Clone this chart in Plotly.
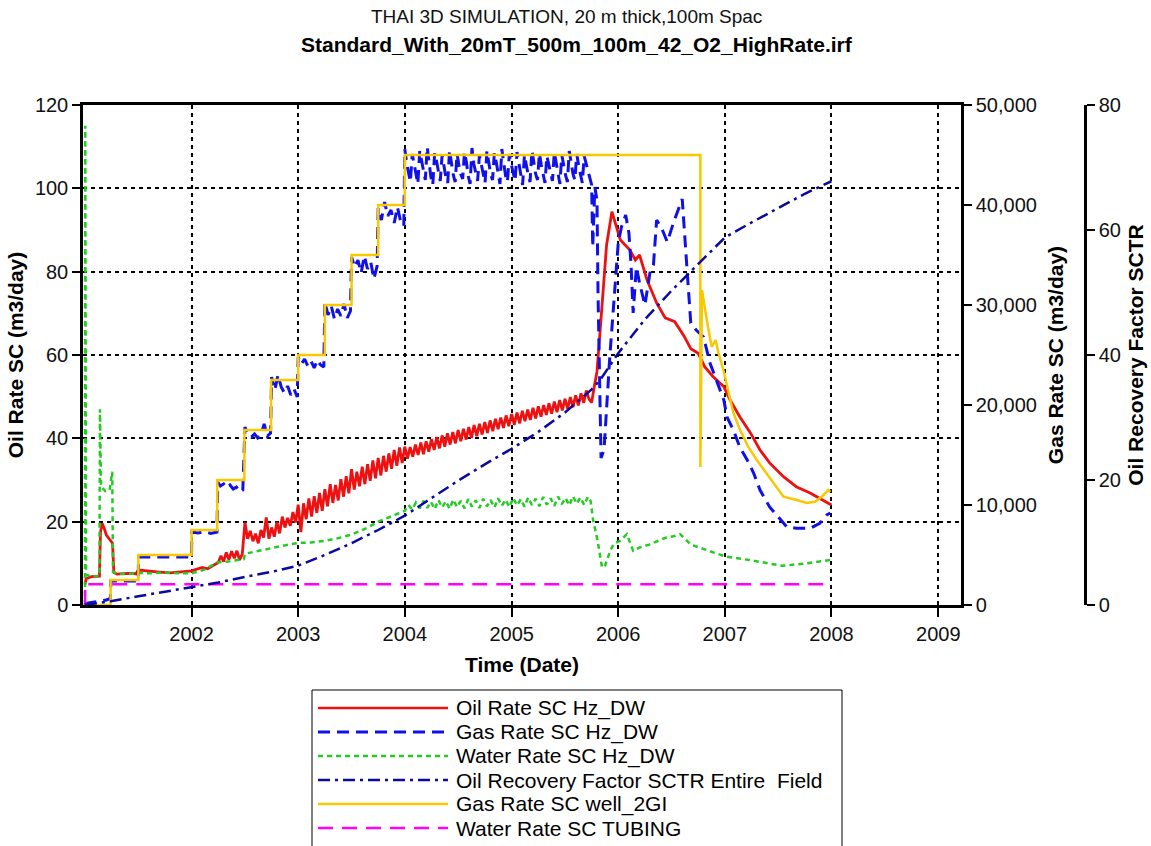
import plotly.graph_objects as go
from datetime import datetime, timedelta

# ---------------- data (decimal years) ----------------
series_names = [
    "Oil Rate SC Hz_DW",
    "Gas Rate SC Hz_DW",
    "Water Rate SC Hz_DW",
    "Oil Recovery Factor SCTR Entire\u00a0 Field",
    "Gas Rate SC well_2GI",
    "Water Rate SC TUBING",
]

year_ticks = [2002, 2003, 2004, 2005, 2006, 2007, 2008, 2009]
oil_ticks = [0, 20, 40, 60, 80, 100, 120]
gas_ticks = [0, 10000, 20000, 30000, 40000, 50000]
rf_ticks = [0, 20, 40, 60, 80]

# Oil Rate SC Hz_DW (m3/day, left axis)
oil_early_t = [2001.0, 2001.01, 2001.06, 2001.135, 2001.145, 2001.16, 2001.18, 2001.20, 2001.235, 2001.258,
               2001.27, 2001.3, 2001.4, 2001.48, 2001.5, 2001.6, 2001.7, 2001.8, 2001.9, 2002.0,
               2002.05, 2002.1, 2002.15, 2002.2, 2002.225]
oil_early_v = [5.0, 6.3, 6.8, 6.9, 17.5, 19.6, 18.4, 16.8, 15.6, 14.8,
               7.8, 7.4, 7.6, 7.5, 8.4, 8.1, 7.9, 7.7, 7.9, 8.2,
               8.6, 9.0, 8.7, 9.4, 9.8]
oil_noisy_start = 2002.25
oil_noisy_step = 0.025
oil_noisy_v = [10.2, 11.8, 10.4, 12.6, 10.9, 12.9, 11.2, 13.0, 10.8, 12.2,
               19.8, 15.9, 17.8, 15.3, 17.1, 14.8, 18.0, 16.2, 21.0, 15.9,
               18.6, 16.4, 19.9, 17.2, 21.2, 18.6, 20.9, 19.0, 22.3, 19.8,
               24.1, 17.5, 24.4, 20.6, 25.6, 21.2, 26.1, 22.1, 26.9, 22.6,
               27.8, 23.7, 29.0, 24.5, 28.8, 25.1, 30.2, 26.0, 30.9, 26.8,
               32.6, 27.7, 32.0, 28.5, 33.2, 29.0, 33.8, 29.8, 34.7, 30.4,
               35.3, 31.1, 35.8, 32.0, 36.4, 32.7, 37.2, 33.4, 37.8, 34.1,
               38.0, 35.1, 37.9, 35.6, 38.5, 36.0, 39.0, 36.2, 39.3, 36.8,
               39.8, 37.2, 40.3, 37.6, 40.7, 38.0, 41.2, 38.5, 41.5, 38.8,
               42.0, 39.3, 42.3, 39.7, 42.7, 40.1, 43.2, 40.5, 43.5, 40.9,
               43.9, 41.3, 44.3, 41.7, 44.7, 42.2, 45.0, 42.5, 45.5, 42.9,
               45.8, 43.3, 46.2, 43.6, 46.6, 44.1, 46.9, 44.4, 47.3, 44.8,
               47.7, 45.2, 48.0, 45.6, 48.4, 45.9, 48.8, 46.3, 49.2, 46.7,
               49.5, 47.1, 49.9, 47.5, 50.3, 47.9, 50.8, 48.5, 51.5, 49.4,
               48.6]
oil_late_t = [2005.775, 2005.80, 2005.83, 2005.86, 2005.89, 2005.94, 2006.02, 2006.11, 2006.16, 2006.20,
              2006.27, 2006.36, 2006.44, 2006.53, 2006.62, 2006.68, 2006.75, 2006.81, 2006.89, 2006.99,
              2007.05, 2007.14, 2007.24, 2007.33, 2007.42, 2007.55, 2007.67, 2007.80, 2007.92, 2008.0]
oil_late_v = [52.5, 56.0, 66.0, 77.0, 86.4, 94.4, 87.6, 85.2, 82.8, 84.0,
              78.0, 72.5, 68.9, 68.0, 64.4, 61.5, 60.4, 57.2, 54.8, 52.4,
              49.2, 45.2, 41.3, 37.2, 34.1, 30.8, 28.4, 26.9, 25.2, 24.0]

# Gas Rate SC Hz_DW (m3/day, gas axis)
gas_early_t = [2001.0, 2001.03, 2001.12, 2001.2, 2001.238, 2001.242, 2001.498, 2001.502, 2001.998, 2002.002,
               2002.06, 2002.12, 2002.18, 2002.238,
               2002.245, 2002.27, 2002.30, 2002.33, 2002.36, 2002.39, 2002.42, 2002.45, 2002.48,
               2002.50, 2002.53, 2002.56, 2002.59, 2002.62, 2002.65, 2002.68, 2002.71, 2002.74,
               2002.75, 2002.78, 2002.81, 2002.84, 2002.87, 2002.90, 2002.93, 2002.96, 2002.99,
               2003.0, 2003.03, 2003.06, 2003.09, 2003.12, 2003.15, 2003.18, 2003.21, 2003.24,
               2003.25, 2003.28, 2003.31, 2003.34, 2003.37, 2003.40, 2003.43, 2003.46, 2003.49,
               2003.5, 2003.53, 2003.56, 2003.59, 2003.62, 2003.65, 2003.68, 2003.71, 2003.74,
               2003.75, 2003.78, 2003.81, 2003.84, 2003.87, 2003.90, 2003.93, 2003.96, 2003.99]
gas_early_v = [0, 200, 350, 500, 650, 2400, 2400, 4800, 4800, 7300,
               7200, 7350, 7150, 7300,
               12300, 11900, 12100, 11700, 12000, 11600, 11800, 11300, 11500,
               17800, 17000, 16800, 17100, 16700, 17000, 18100, 16900, 17200,
               22800, 21500, 23000, 21800, 21200, 21900, 21000, 21600, 20800,
               24800, 24100, 24600, 23900, 24400, 23700, 24500, 24000, 23800,
               30300, 29000, 29900, 28600, 29600, 28900, 30100, 28700, 29400,
               34800, 33800, 34500, 33200, 34900, 33600, 34300, 32600, 33900,
               39700, 38500, 40300, 38900, 39500, 38200, 39800, 38400, 37900]
gas_plateau_start = 2004.0
gas_plateau_step = 0.0175
gas_plateau_v = [45600, 44200, 43100, 42300, 45100, 44000, 42900, 42100, 45400, 44300, 43200, 42500,
                 45800, 44100, 42800, 42000, 45200, 44400, 43300, 42400, 45000, 43900, 42800, 42200,
                 45500, 44200, 43000, 42300, 45100, 44000, 43100, 42600, 45300, 44300, 42900, 42100,
                 45700, 44100, 43200, 42400, 45000, 44000, 42800, 42200, 45400, 44200, 43100, 42500,
                 45200, 44300, 43000, 42100, 45600, 44000, 42900, 42300, 45100, 44100, 43200, 42400,
                 45300, 44200, 42800, 42000, 45000, 43900, 43000, 42300, 45500, 44300, 43100, 42500,
                 45200, 44000, 42900, 42200, 44900, 44100, 43200, 42400, 45300, 44200, 42800, 42100,
                 45000, 43900, 43000, 42300, 45400, 44300, 43100, 42500, 45100, 44000, 42900, 42200,
                 44900, 44100, 43300, 42600]
gas_late_t = [2005.75, 2005.76, 2005.78, 2005.80, 2005.81, 2005.838, 2005.866, 2005.92,
              2005.97, 2006.0, 2006.03, 2006.07, 2006.10, 2006.12, 2006.14, 2006.17, 2006.20, 2006.25,
              2006.30, 2006.33, 2006.36, 2006.41, 2006.46, 2006.52, 2006.60, 2006.62, 2006.65, 2006.68,
              2006.73, 2006.80, 2006.86, 2006.92, 2006.99, 2007.02, 2007.08, 2007.14, 2007.21, 2007.27,
              2007.33, 2007.42, 2007.52, 2007.58, 2007.67, 2007.80, 2007.89, 2007.955, 2007.99]
gas_late_v = [42000, 35800, 41800, 40500, 31000, 14700, 15500, 24800,
              32500, 36200, 37800, 39000, 37200, 34000, 29200, 33800, 32200, 30000,
              33400, 34000, 38500, 37600, 36300, 38300, 40600, 37800, 32800, 28200,
              27500, 26800, 24200, 22500, 20500, 18800, 17500, 15800, 14500, 13200,
              11500, 9800, 8500, 7830, 7670, 7670, 8170, 9000, 9200]

# Water Rate SC Hz_DW (m3/day, left axis)
water_early_t = [2001.0, 2001.002, 2001.01, 2001.06, 2001.135, 2001.14, 2001.15, 2001.19, 2001.23, 2001.255,
                 2001.262, 2001.3, 2001.4, 2001.5, 2001.6, 2001.75, 2001.9, 2002.0, 2002.12, 2002.24,
                 2002.36, 2002.49, 2002.5, 2002.62, 2002.75, 2002.87, 2003.0, 2003.12, 2003.25, 2003.37,
                 2003.5, 2003.62, 2003.75, 2003.87]
water_early_v = [0, 115, 7.2, 6.9, 7.0, 47, 28.5, 27.3, 27.5, 32,
                 8.0, 7.5, 7.4, 7.7, 7.6, 7.8, 7.6, 7.6, 8.5, 10.2,
                 10.5, 11.0, 12.3, 13.0, 13.7, 14.3, 14.9, 15.0, 15.4, 16.0,
                 16.9, 18.2, 20.0, 21.2]
water_plateau_start = 2004.0
water_plateau_step = 0.035
water_plateau_v = [22.6, 24.0, 22.9, 24.6, 23.2, 25.0, 23.3, 24.8, 23.0, 25.2,
                   23.4, 24.9, 23.1, 25.3, 23.5, 25.0, 23.2, 25.4, 23.6, 25.1,
                   23.3, 25.5, 23.7, 25.2, 23.4, 25.6, 23.8, 25.3, 23.5, 25.7,
                   23.9, 25.4, 23.6, 25.8, 24.0, 25.5, 23.7, 25.9, 24.1, 25.6,
                   23.8, 26.0, 24.2, 25.7, 23.9, 26.1, 24.3, 25.8, 24.0]
water_late_t = [2005.715, 2005.74, 2005.764, 2005.806, 2005.846, 2005.87, 2005.924, 2005.96, 2006.018, 2006.08,
                2006.14, 2006.2, 2006.29, 2006.37, 2006.45, 2006.52, 2006.58, 2006.68, 2006.84, 2007.01,
                2007.23, 2007.4, 2007.54, 2007.77, 2007.99]
water_late_v = [26.0, 25.0, 20.4, 15.4, 9.2, 9.0, 13.0, 14.8, 15.4, 17.0,
                13.0, 13.8, 14.5, 15.3, 16.2, 16.5, 17.0, 14.5, 13.0, 11.6,
                10.8, 10.0, 9.4, 10.0, 10.8]

# Oil Recovery Factor SCTR Entire Field (third axis)
rf_t = [2001.0, 2001.24, 2001.5, 2001.75, 2002.0, 2002.25, 2002.5, 2002.75, 2003.0, 2003.25,
        2003.5, 2003.75, 2004.0, 2004.25, 2004.5, 2004.75, 2005.0, 2005.25, 2005.5, 2005.75,
        2005.83, 2006.0, 2006.25, 2006.5, 2006.75, 2007.0, 2007.25, 2007.5, 2007.75, 2008.0]
rf_v = [0, 0.6, 1.4, 2.1, 2.9, 3.6, 4.5, 5.3, 6.3, 8.0,
        9.9, 12.0, 14.3, 17.1, 19.9, 22.5, 25.0, 27.7, 30.8, 34.5,
        36.0, 40.3, 45.7, 50.3, 54.6, 58.8, 61.2, 63.5, 65.8, 67.8]

# Gas Rate SC well_2GI (gas axis)
gi_t = [2001.0, 2001.24, 2001.24, 2001.5, 2001.5, 2002.0, 2002.0, 2002.24, 2002.24, 2002.495,
        2002.495, 2002.745, 2002.745, 2003.0, 2003.0, 2003.25, 2003.25, 2003.5, 2003.5, 2003.75,
        2003.75, 2004.0, 2004.0, 2006.77, 2006.77, 2006.785, 2006.83, 2006.876, 2006.913, 2006.94,
        2006.986, 2007.033, 2007.08, 2007.143, 2007.22, 2007.30, 2007.39, 2007.455, 2007.55, 2007.674,
        2007.768, 2007.845, 2007.908, 2007.97, 2007.99]
gi_v = [0, 0, 2500, 2500, 5000, 5000, 7500, 7500, 12500, 12500,
        17500, 17500, 22500, 22500, 25000, 25000, 30000, 30000, 35000, 35000,
        40000, 40000, 45000, 45000, 13800, 31500, 28500, 25800, 26500, 25200,
        23500, 21200, 19200, 17500, 15800, 14500, 13200, 12200, 10830, 10500,
        10200, 10330, 10830, 11500, 11300]

# Water Rate SC TUBING (left axis)
tub_t = [2001.0, 2001.001, 2008.0]
tub_v = [0, 5, 5]


# ---------------- helpers ----------------
def to_date(y):
    yr = int(y)
    return datetime(yr, 1, 1) + timedelta(days=(y - yr) * 365.25)


def dates(ts):
    return [to_date(t) for t in ts]


def grid_times(start, step, n):
    return [start + i * step for i in range(n)]


oil_t = oil_early_t + grid_times(oil_noisy_start, oil_noisy_step, len(oil_noisy_v)) + oil_late_t
oil_v = oil_early_v + oil_noisy_v + oil_late_v
gas_t = gas_early_t + grid_times(gas_plateau_start, gas_plateau_step, len(gas_plateau_v)) + gas_late_t
gas_v = gas_early_v + gas_plateau_v + gas_late_v
water_t = water_early_t + grid_times(water_plateau_start, water_plateau_step, len(water_plateau_v)) + water_late_t
water_v = water_early_v + water_plateau_v + water_late_v

# ---------------- layout geometry ----------------
W, H = 1151, 846
ML, MR, MT, MB = 83, 20, 105, 241
PW = W - ML - MR
PH = H - MT - MB
x_end = (961 - ML) / PW
rf_pos = (1085 - ML) / PW


def px_x(px):
    return (px - ML) / PW


def px_y(py):
    return (H - MB - py) / PH


TICK_FONT = dict(family="Liberation Sans, Arial", size=20, color="#111111")
TITLE_FONT = dict(family="Liberation Sans, Arial", size=21, color="black")
LEGEND_FONT = dict(family="Liberation Sans, Arial", size=21, color="black")

styles = [
    dict(color="#EE1111", width=2.5),
    dict(color="#1010E8", width=3, dash="12px,7px"),
    dict(color="#22CC22", width=2.5, dash="5px,4px"),
    dict(color="#0A0AA0", width=2.5, dash="12px,5px,3px,5px"),
    dict(color="#F8C800", width=2.5),
    dict(color="#FF00FF", width=2.5, dash="15px,9px"),
]
trace_widths = [2.8, 3, 2.5, 2.5, 2.5, 2.5]
series = [
    (oil_t, oil_v, "y"),
    (gas_t, gas_v, "y2"),
    (water_t, water_v, "y"),
    (rf_t, rf_v, "y3"),
    (gi_t, gi_v, "y2"),
    (tub_t, tub_v, "y"),
]

fig = go.Figure()
for (ts, vs, ax), name, st, lw in zip(series, series_names, styles, trace_widths):
    fig.add_trace(go.Scatter(x=dates(ts), y=vs, name=name, mode="lines",
                             line=dict(st, width=lw), yaxis=ax, showlegend=False))

common_axis = dict(showline=True, linecolor="black", linewidth=2.5, ticks="outside",
                   tickwidth=2, tickcolor="black", tickfont=TICK_FONT, zeroline=False)
grid = dict(showgrid=True, gridcolor="black", gridwidth=1.6, griddash="4px,4px")

# ---- legend box drawn as in the reference (long line samples) ----
legend_rows = [708, 732, 756, 780, 804, 828]
shapes = [dict(type="rect", xref="paper", yref="paper", x0=px_x(312), x1=px_x(842),
               y0=px_y(690), y1=px_y(870), line=dict(color="black", width=1),
               fillcolor="white", layer="above")]
annotations = []
for row, name, st in zip(legend_rows, series_names, styles):
    shapes.append(dict(type="line", xref="paper", yref="paper", x0=px_x(318), x1=px_x(448),
                       y0=px_y(row), y1=px_y(row), line=st, layer="above"))
    annotations.append(dict(text=name, xref="paper", yref="paper", x=px_x(454), y=px_y(row),
                            xanchor="left", yanchor="middle", showarrow=False, font=LEGEND_FONT))

annotations += [
    dict(text="THAI 3D SIMULATION, 20 m thick,100m Spac", xref="paper", yref="paper",
         x=px_x(566), y=px_y(16), xanchor="center", yanchor="middle",
         showarrow=False, font=dict(family="Liberation Sans, Arial", size=19, color="#111111")),
    dict(text="<b>Standard_With_20mT_500m_100m_42_O2_HighRate.irf</b>", xref="paper", yref="paper",
         x=px_x(577), y=px_y(45), xanchor="center", yanchor="middle",
         showarrow=False, font=dict(family="Liberation Sans, Arial", size=21, color="black")),
]

fig.update_layout(
    width=W, height=H, autosize=False,
    margin=dict(l=ML, r=MR, t=MT, b=MB, autoexpand=False),
    paper_bgcolor="white", plot_bgcolor="white",
    showlegend=False,
    xaxis=dict(type="date", range=[to_date(2000.983), to_date(2009.213)], domain=[0, x_end],
               tickvals=dates(year_ticks), ticktext=[str(y) for y in year_ticks],
               mirror=True, ticklen=9,
               title=dict(text="<b>Time (Date)</b>", font=TITLE_FONT, standoff=14),
               **common_axis, **grid),
    yaxis=dict(range=[0, 120], tickvals=oil_ticks, ticklen=8,
               title=dict(text="<b>Oil Rate SC (m3/day)</b>", font=TITLE_FONT, standoff=6),
               **common_axis, **grid),
    yaxis2=dict(range=[0, 50000], tickvals=gas_ticks, tickformat=",", overlaying="y", side="right",
                anchor="x", showgrid=False, ticklen=8,
                title=dict(text="<b>Gas Rate SC (m3/day)</b>", font=TITLE_FONT, standoff=13),
                **common_axis),
    yaxis3=dict(range=[0, 80], tickvals=rf_ticks, overlaying="y", side="right", anchor="free",
                position=rf_pos, showgrid=False, ticklen=8,
                title=dict(text="<b>Oil Recovery Factor SCTR</b>", font=TITLE_FONT, standoff=8),
                **common_axis),
    shapes=shapes,
    annotations=annotations,
)

fig.write_html("out.html")
